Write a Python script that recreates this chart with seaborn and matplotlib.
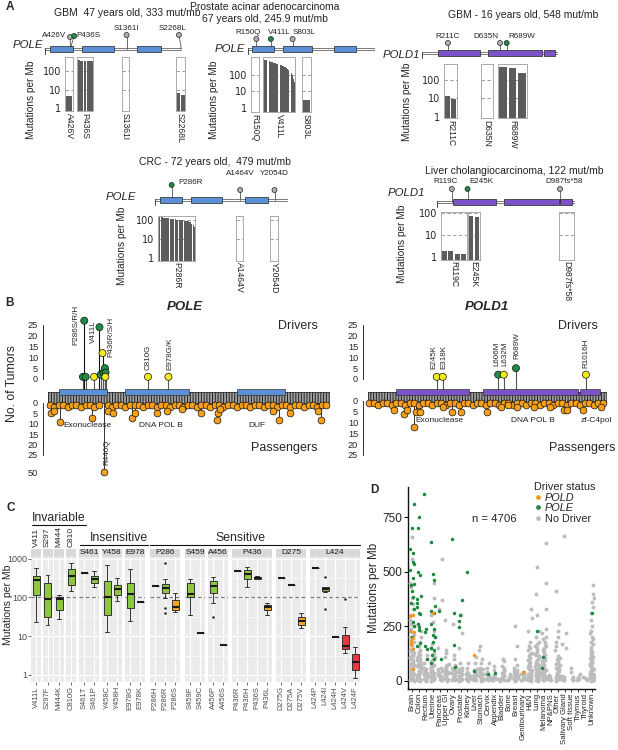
import numpy as np
import pandas as pd
import matplotlib
matplotlib.use("Agg")
import matplotlib.pyplot as plt
import matplotlib.ticker as mticker
from matplotlib.patches import Rectangle
from matplotlib.lines import Line2D
import seaborn as sns

np.random.seed(7)
sns.set_theme(style="white")
plt.rcParams["font.family"] = ["Liberation Sans", "DejaVu Sans"]
plt.rcParams["axes.linewidth"] = 0.6
plt.rcParams["hatch.linewidth"] = 0.7

# ============================ DATA ============================
# ---- Panel A : case studies ----
POLE_LEN, POLD1_LEN = 2286, 1107
POLE_DOMAINS = [(78, 472), (621, 1148), (1542, 1937)]
POLD1_DOMAINS = [(130, 470), (535, 980), (990, 1080)]

a1_title = ["GBM  47 years old, 333 mut/mb"]
a1_muts = ["A426V", "P436S", "S1361I", "S2268L"]
a1_pos = [426, 436, 1361, 2268]
a1_driver = [False, True, False, False]
a1_bars = [[4.5], [390, 370, 350, 340, 330], [], [6.5, 5]]

a2_title = ["Prostate acinar adenocarcinoma", "67 years old, 245.9 mut/mb"]
a2_muts = ["R150Q", "V411L", "S803L"]
a2_pos = [150, 411, 803]
a2_driver = [False, True, False]
a2_bars = [[], [900, 850, 800, 760, 720, 690, 650, 620, 590, 560, 530, 500, 470, 450,
                420, 400, 380, 360, 340, 310, 290, 260, 230, 200, 170, 140, 100, 60, 40], [3]]

a3_title = ["GBM - 16 years old, 548 mut/mb"]
a3_muts = ["R211C", "D635N", "R689W"]
a3_pos = [211, 635, 689]
a3_driver = [False, False, True]
a3_bars = [[13, 9], [], [480, 420, 230]]

a4_title = ["CRC - 72 years old,  479 mut/mb"]
a4_muts = ["P286R", "A1464V", "Y2054D"]
a4_pos = [286, 1464, 2054]
a4_driver = [True, False, False]
a4_bars = [[150, 146, 142, 138, 134, 130, 127, 124, 121, 118, 115, 112, 110, 108, 105,
            102, 100, 98, 96, 94, 92, 90, 88, 85, 80, 75, 65, 55, 45], [], []]

a5_title = ["Liver cholangiocarcinoma, 122 mut/mb"]
a5_muts = ["R119C", "E245K", "D987fs*58"]
a5_pos = [119, 245, 987]
a5_driver = [False, True, False]
a5_bars = [[1.8, 1.8, 1.4, 1.4], [72, 66], []]

# ---- Panel B : lollipops ----
pole_drv_pos = [286, 275, 297, 366, 411, 421, 436, 444, 456, 461, 459, 810, 978]
pole_drv_cnt = [27, 1, 1, 1, 24, 2, 12, 3, 5, 3, 1, 1, 1]
pole_drv_col = ["g", "g", "g", "y", "g", "g", "y", "g", "g", "g", "y", "y", "y"]
pole_drv_labels = ["P286S/R/H", "V411L", "P436R/S/H", "C810G", "E978G/K"]

pole_pas_pos = [5, 40, 75, 110, 150, 185, 220, 255, 300, 335, 370, 405, 480, 515, 550, 590,
                625, 660, 700, 735, 770, 810, 845, 880, 920, 955, 990, 1030, 1065, 1100, 1140,
                1175, 1210, 1250, 1285, 1320, 1360, 1395, 1430, 1470, 1505, 1540, 1580, 1615,
                1650, 1690, 1725, 1760, 1800, 1835, 1870, 1910, 1945, 1980, 2020, 2055, 2090,
                2130, 2165, 2200, 2240, 2275,
                10, 37, 86, 347, 446, 484, 525, 676, 703, 881, 964, 1087, 1243, 1375, 1389,
                1402, 1840, 1890, 1978, 2211, 2230]
pole_pas_cnt = [1, 2, 1, 1, 2, 1, 1, 2, 1, 1, 2, 1, 1, 2, 1, 1,
                2, 1, 1, 1, 2, 1, 1, 2, 1, 1, 2, 1, 1, 2, 1,
                1, 2, 1, 1, 2, 1, 1, 2, 1, 1, 2, 1, 1,
                2, 1, 1, 2, 1, 1, 2, 1, 1, 2, 1, 1, 2,
                1, 1, 2, 1, 1,
                5, 4, 9, 7, 50, 4, 5, 7, 5, 5, 4, 3, 5, 8, 5,
                3, 4, 8, 5, 4, 8]

pold_drv_pos = [319, 347, 606, 632, 689, 1016]
pold_drv_cnt = [1, 1, 2, 2, 5, 2]
pold_drv_col = ["y", "y", "g", "y", "g", "y"]
pold_drv_labels = ["E245K", "E318K", "L606M", "L632M", "R689W", "R1016H"]

pold_pas_pos = [3, 24, 45, 66, 87, 108, 129, 150, 171, 192, 213, 234, 255, 276, 297, 318, 339,
                360, 381, 402, 423, 444, 465, 486, 507, 528, 549, 570, 591, 612, 633, 654, 675,
                696, 717, 738, 759, 780, 801, 822, 843, 864, 885, 906, 927, 948, 969, 990, 1011,
                1032, 1053, 1074, 1095,
                120, 167, 179, 213, 222, 241, 348, 392, 434, 556, 619, 651, 692, 773, 850, 912,
                927, 1004, 1088]
pold_pas_cnt = [1, 1, 2, 1, 1, 2, 1, 1, 2, 1, 1, 2, 1, 1, 2, 1, 1,
                2, 1, 1, 2, 1, 1, 2, 1, 1, 2, 1, 1, 2, 1, 1, 2,
                1, 1, 2, 1, 1, 2, 1, 1, 2, 1, 1, 2, 1, 1, 2, 1,
                1, 2, 1, 1,
                4, 6, 4, 12, 5, 5, 3, 5, 5, 5, 3, 2, 3, 3, 3, 4,
                4, 4, 3]

# ---- Panel C : boxplots ----
c_mut = ["V411L", "S297F", "M444K", "C810G", "S461T", "S461P", "Y458C", "Y458H", "E978G",
         "E978K", "P286H", "P286R", "P286S", "S459F", "S459C", "A456P", "A456S", "P436R",
         "P436H", "P436S", "P436L", "D275G", "D275A", "D275V", "L424P", "L424I", "L424H",
         "L424V", "L424F"]
c_vals = [[23, 112, 280, 355, 580], [19, 31, 92, 240, 380], [28, 48, 92, 100, 112],
          [150, 215, 355, 525, 780], [420], [190, 235, 300, 360, 470],
          [13, 35, 100, 265, 690], [83, 112, 160, 215, 310], [24, 53, 120, 235, 550], [75],
          [200], [95, 130, 170, 220, 290], [42, 47, 56, 88, 130], [35, 100, 120, 235, 300],
          [12], [70, 130, 200, 270, 330], [6], [470], [190, 290, 410, 520, 600],
          [290, 300, 320, 340, 350], [36, 48, 55, 65, 72], [310], [210],
          [16, 20, 25, 32, 40], [560], [135, 145, 160, 180, 190], [9.5],
          [3.6, 4.8, 5.5, 11, 17], [0.84, 1.34, 2.2, 3.4, 5.3]]
c_class = ["g", "g", "g", "g", "g", "g", "g", "g", "g", "g", "g", "g", "o", "g", "g", "g", "g",
           "g", "g", "g", "o", "g", "g", "o", "g", "g", "g", "r", "r"]
c_out_mut = ["P286R", "P286R", "P286R", "A456P", "L424I", "L424I", "L424V"]
c_out_val = [40, 52, 780, 31, 50, 330, 90]
c_groups = ["Invariable", "Insensitive", "Sensitive"]

# ---- Panel D : strip plot ----
d_cats = ["Brain", "Colon", "Rectum", "Uterine", "Pancreas", "Upper GI", "Ovary", "Prostate",
          "Kidney", "Liver", "Stomach", "Cervix", "Appendix", "Bladder", "Bone", "Breast",
          "Genitourinary", "H&N", "Lung", "Melanoma", "NP&PNS", "Other", "Salivary Gland",
          "Soft tissue", "Thymus", "Thyroid", "Unknown"]
# sparse upper values of tumours without a driver
d_nodriver = [
    [660, 560, 450, 430, 380, 350, 330, 300, 280, 260, 250, 240, 225, 210, 200, 190, 180, 170,
     160],
    [260, 230, 200, 180, 160],
    [120, 100, 80],
    [450, 380, 300, 270, 230, 200, 170, 150, 130, 110],
    [560, 370, 330, 150],
    [280, 140, 130, 110],
    [260, 120, 100],
    [300, 220, 150, 80],
    [80, 60],
    [110, 80],
    [160, 140, 100, 80],
    [80, 60],
    [70, 50],
    [100, 90, 70],
    [30],
    [250, 160, 100, 75],
    [40],
    [330, 290, 230, 180, 160],
    [520, 400, 300, 230, 200],
    [630, 450, 330, 240, 220, 200, 190],
    [25],
    [410, 260, 230, 200, 180, 160, 140],
    [665, 220, 170, 150],
    [60, 40],
    [30, 20],
    [20],
    [440, 400, 380, 360, 340, 310, 280, 250, 230, 220, 200, 190],
]
# dense low block of tumours without a driver
d_nodriver_low = [
    [1, 4, 7, 9, 12, 15, 18, 21, 24, 27, 29, 33, 36, 39, 42, 46, 49, 52, 56, 59, 63, 66, 70, 73,
     77, 81, 84, 88, 92, 96, 101, 105, 109, 114, 118, 123, 128, 133, 139, 145, 150],
    [1, 3, 6, 9, 11, 14, 17, 20, 23, 26, 28, 31, 34, 37, 41, 44, 47, 51, 54, 58, 62, 66, 69, 73,
     77, 82, 86, 91, 96, 102, 107, 113, 119, 126, 133, 141],
    [1, 4, 7, 11, 14, 18, 22, 26, 31, 35, 41, 46, 53, 58],
    [1, 4, 7, 10, 13, 16, 19, 23, 26, 29, 33, 37, 41, 45, 49, 54, 58, 63, 68, 74, 79, 86, 93, 99],
    [2, 5, 8, 12, 15, 19, 23, 27, 32, 36, 41, 47, 53, 59],
    [1, 4, 8, 11, 14, 18, 22, 26, 30, 34, 39, 44, 49, 55, 61, 67, 74, 79],
    [2, 5, 8, 11, 15, 18, 22, 26, 30, 35, 39, 44, 50, 55, 61, 68, 75],
    [1, 4, 8, 11, 15, 19, 23, 27, 32, 37, 42, 48, 54, 60],
    [1, 4, 8, 12, 16, 20, 25, 30, 35, 40],
    [2, 5, 9, 13, 17, 21, 26, 31, 36, 42, 48, 55],
    [1, 4, 7, 11, 14, 18, 22, 27, 31, 36, 41, 47, 53, 59],
    [2, 5, 9, 13, 17, 22, 27, 33, 39],
    [2, 6, 10, 14, 19, 24, 29],
    [1, 5, 9, 13, 17, 22, 27, 32, 38, 44, 51, 58],
    [2, 6, 11, 16, 20],
    [1, 4, 8, 11, 15, 19, 23, 28, 33, 38, 44, 50, 57],
    [2, 6, 10, 15, 20, 25, 30],
    [1, 4, 7, 10, 13, 16, 19, 23, 26, 30, 33, 37, 41, 45, 49, 54, 58, 63, 68, 73, 79, 85, 91, 98,
     105, 113, 121, 130, 140, 150],
    [1, 3, 6, 9, 12, 15, 18, 21, 24, 27, 30, 34, 37, 41, 44, 48, 52, 56, 60, 64, 69, 73, 78, 83,
     88, 94, 99, 105, 112, 118, 125, 133, 141, 150, 160, 170, 180],
    [2, 4, 7, 10, 13, 16, 19, 22, 25, 29, 32, 36, 39, 43, 47, 51, 55, 59, 63, 68, 72, 77, 82, 87,
     93, 98, 104, 111, 117, 124, 132, 140, 149, 158, 168, 178],
    [2, 6, 11, 16, 21],
    [1, 4, 7, 10, 14, 17, 21, 24, 28, 32, 36, 40, 45, 49, 54, 59, 65, 71, 77, 84, 91, 99, 107, 116],
    [2, 6, 11, 16, 22],
    [2, 6, 11, 16],
    [3, 8, 13],
    [3, 8, 13],
    [1, 3, 6, 9, 12, 15, 18, 21, 25, 28, 31, 35, 38, 42, 46, 50, 54, 58, 62, 67, 71, 76, 81, 86,
     92, 97, 103, 110, 116, 123, 131, 139, 148, 157, 167, 178],
]
d_pole = [[810, 700, 605, 585, 545, 535, 510, 470, 445, 440, 410, 385, 355, 330, 270, 250, 200],
          [750, 700, 500, 485, 390, 375, 355, 340, 310, 305, 260, 245, 235, 175, 160],
          [855, 240, 225, 160, 145, 100],
          [635, 490, 460, 345, 320, 310, 260, 240, 210, 200, 180, 150, 140, 120, 100, 80],
          [320, 100], [], [650, 310, 165, 65], [370, 300, 275, 245], [500], [46], [], [30],
          [35], [], [], [], [], [], [230], [110, 60], [], [], [], [], [], [], [310]]
d_pold = [[300, 295, 230, 225, 195, 185, 170, 145, 55], [], [], [310], [], [], [], [], [],
          [120], [], [], [], [], [], [], [40], [], [], [], [], [], [], [], [], [], []]
d_n_label = "n = 4706"

# ============================ HELPERS ============================
W, H = 618, 750
fig = plt.figure(figsize=(W / 100, H / 100), dpi=100)


def rect(x0, y0, x1, y1):
    return [x0 / W, 1 - y1 / H, (x1 - x0) / W, (y1 - y0) / H]


def ftext(x, y, s, **kw):
    return fig.text(x / W, 1 - y / H, s, **kw)


def fline(x0, x1, y, **kw):
    fig.add_artist(Line2D([x0 / W, x1 / W], [1 - y / H, 1 - y / H],
                          transform=fig.transFigure, **kw))


BAR_GREY = "#5c5c5c"
GREEN = "#1E8C45"
YELLOW = "#F3EA1B"
ORANGE = "#F7A01C"


# ============================ PANEL A ============================
def draw_case(title, title_xy, gene, L, domains, dcol, trk, glab, muts, pos, driver,
              circ_h, circ_dx, lab_dx, lab_h, panels, pan_y, bars, ylim, ylab_xy):
    tx0, tx1, ty = trk
    for i, line in enumerate(title):
        ftext(title_xy[0], title_xy[1] + i * 12, line, ha="center", va="center", fontsize=7.5,
              color="#222")
    ftext(glab[0], glab[1], gene, ha="right", va="center", fontsize=8.2, style="italic")
    ax = fig.add_axes(rect(tx0, ty - 30, tx1, ty + 6))
    ppa = (tx1 - tx0) / L
    ax.add_patch(Rectangle((0, -1.3), L, 2.6, fc="white", ec="#666", lw=0.6, zorder=1))
    for xe in (0, L):
        ax.plot([xe, xe], [-4.5, 1.3], color="#444", lw=0.7, zorder=1)
    for s, e in domains:
        ax.add_patch(Rectangle((s, -2.6), e - s, 5.2, fc=dcol, ec="#222", lw=0.5, zorder=3))
    cxs = []
    for i, p in enumerate(pos):
        cx = p + circ_dx[i] / ppa
        cxs.append(cx)
        ax.plot([p, p, cx], [0, 3, circ_h[i]], color="#555", lw=0.6, zorder=2)
        ax.text(cx + lab_dx[i] / ppa, lab_h[i], muts[i], ha="center", va="bottom",
                fontsize=5.8, color="#222")
    sns.scatterplot(x=cxs, y=circ_h, hue=["d" if d else "p" for d in driver],
                    palette={"d": GREEN, "p": "#b0b0b0"}, s=13, edgecolor="#222",
                    linewidth=0.5, legend=False, ax=ax, zorder=4, clip_on=False)
    ax.set_xlim(0, L)
    ax.set_ylim(-6, 30)
    ax.axis("off")
    for i, (px0, px1) in enumerate(panels):
        bx = fig.add_axes(rect(px0, pan_y[0], px1, pan_y[1]))
        vals = bars[i]
        if vals:
            sns.barplot(x=list(range(len(vals))), y=vals, color=BAR_GREY, saturation=1,
                        width=0.82, edgecolor="none", linewidth=0, ax=bx)
        bx.set_yscale("log")
        bx.set_ylim(*ylim)
        bx.set_xlim(-0.5, max(len(vals), 1) - 0.5)
        bx.set_xticks([])
        bx.set_xlabel("")
        bx.set_ylabel("")
        bx.set_facecolor("white")
        for yv in (10, 100):
            if ylim[0] < yv < ylim[1]:
                bx.axhline(yv, ls=(0, (4, 3)), color="#8a8a8a", lw=0.6, zorder=0)
        for sp in bx.spines.values():
            sp.set_color("#aaaaaa")
            sp.set_linewidth(0.7)
        bx.yaxis.set_minor_locator(mticker.NullLocator())
        if i == 0:
            bx.set_yticks([1, 10, 100])
            bx.set_yticklabels(["1", "10", "100"], fontsize=7, family="DejaVu Sans")
            bx.tick_params(axis="y", length=2, width=0.6, pad=1, color="#555")
        else:
            bx.set_yticks([])
        bx.text(0.5, -0.03, muts[i], transform=bx.transAxes, rotation=-90, ha="center",
                va="top", fontsize=6.2, color="#222")
    ftext(ylab_xy[0], ylab_xy[1], "Mutations per Mb", rotation=90, ha="center", va="center",
          fontsize=7.3)


ftext(10, 7, "A", fontsize=8.5, fontweight="bold", ha="center", va="center")

draw_case(a1_title, (127, 13), "POLE", POLE_LEN, POLE_DOMAINS, "#5B8FD6", (45, 182, 49),
          (43, 45), a1_muts, a1_pos, a1_driver, [12, 13, 14, 14], [-0.5, 3, 0, -2],
          [-16, 14, 0, -6], [10, 10, 17, 17], [(65, 73), (77, 93), (122, 129), (176, 185)],
          (57, 111), a1_bars, (0.69, 572), (31, 100))
draw_case(a2_title, (265, 7), "POLE", POLE_LEN, POLE_DOMAINS, "#5B8FD6", (248, 375, 49),
          (245, 49), a2_muts, a2_pos, a2_driver, [10, 10, 10], [0, 0, 0],
          [-8, 8, 12], [13, 13, 13], [(251, 259), (263, 295), (302, 311)],
          (57, 112), a2_bars, (0.57, 1230), (214, 100))
draw_case(a3_title, (523, 15), "POLD1", POLD1_LEN, POLD1_DOMAINS, "#7B52C7", (422, 558, 53),
          (420, 55), a3_muts, a3_pos, a3_driver, [10, 10, 10], [0, 0, 0],
          [0, -14, 15], [13, 13, 13], [(444, 457), (481, 493), (498, 527)],
          (64, 118), a3_bars, (0.88, 730), (407, 102))
draw_case(a4_title, (215, 162), "POLE", POLE_LEN, POLE_DOMAINS, "#5B8FD6", (155, 288, 200),
          (136, 197), a4_muts, a4_pos, a4_driver, [15, 10, 10], [0, 0, 0],
          [19, 0, 0], [14, 23, 23], [(158, 195), (236, 243), (270, 278)],
          (216, 261), a4_bars, (0.7, 162), (122, 246))
draw_case(a5_title, (514, 171), "POLD1", POLD1_LEN, POLD1_DOMAINS, "#7B52C7", (437, 575, 202),
          (425, 193), a5_muts, a5_pos, a5_driver, [13, 13, 13], [0, 0, 0],
          [-6, 14, 4], [17, 17, 17], [(441, 467), (468, 480), (559, 574)],
          (212, 260), a5_bars, (0.73, 110), (402, 244))


# ============================ PANEL B ============================
def lolli(gene, title_x, x0, x1, a, b, doms, dcol, dpos, dcnt, dcl, dlabels, dlab_px,
          ppos, pcnt, bot_zero, bot_scale, bot_end, broken, dom_labels, dl_y, tx_drv, tx_pas):
    xl = ((x0 - a) / b, (x1 - a) / b)
    ftext(title_x, 307, gene, ha="center", va="center", fontsize=9.5, fontweight="bold",
          style="italic")
    # drivers
    axt = fig.add_axes(rect(x0, 312, x1, 392))
    ylo, yhi = -(392 - 379) / 2.16, (379 - 312) / 2.16
    for p, c in zip(dpos, dcnt):
        axt.plot([p, p], [ylo, c], color="#111" if c >= 10 else "#555", lw=0.8, zorder=2)
    sns.scatterplot(x=dpos, y=dcnt, hue=dcl, palette={"g": GREEN, "y": YELLOW}, s=26,
                    edgecolor="#111", linewidth=0.5, legend=False, ax=axt, zorder=4,
                    clip_on=False)
    axt.set_xlim(xl)
    axt.set_ylim(ylo, yhi)
    for k in ("top", "right", "bottom"):
        axt.spines[k].set_visible(False)
    axt.spines["left"].set_bounds(0, 25)
    axt.spines["left"].set_position(("outward", 3.6))
    axt.spines["left"].set_color("#111")
    axt.set_xticks([])
    axt.set_yticks([0, 5, 10, 15, 20, 25])
    axt.tick_params(axis="y", labelsize=6.6, length=2.5, width=0.6, pad=1, color="#111")
    axt.set_facecolor("none")
    axt.set_xlabel("")
    axt.set_ylabel("")
    for lab, (px, py) in zip(dlabels, dlab_px):
        ftext(px, py, lab, rotation=90, ha="center", va="bottom", fontsize=5.8)
    # band
    axm = fig.add_axes(rect(x0, 386, x1, 404))
    axm.set_xlim(xl)
    axm.set_ylim(0, 18)
    axm.axis("off")
    axm.add_patch(Rectangle((xl[0], 1), xl[1] - xl[0], 10.5, fc="#a0a0a0", ec="#222222",
                            hatch="||||||", lw=0))
    axm.add_patch(Rectangle((xl[0], 1), xl[1] - xl[0], 10.5, fc="none", ec="#333", lw=0.6))
    for s, e in doms:
        axm.add_patch(Rectangle((s, 8.5), e - s, 6.5, fc=dcol, ec="#333", lw=0.5, zorder=3))
    # passengers
    axb = fig.add_axes(rect(x0, 392, x1, bot_end))
    ytop = -(bot_zero - 392) / bot_scale
    ybot = (bot_end - bot_zero) / bot_scale
    disp = [c if c <= 25 else 25 + (c - 25) * 8.2 / 25 for c in pcnt]
    axb.vlines(ppos, 0, disp, color="#111", lw=0.6, zorder=2)
    sns.scatterplot(x=ppos, y=disp, color=ORANGE, s=24, edgecolor="#111", linewidth=0.5,
                    legend=False, ax=axb, zorder=4, clip_on=False)
    axb.set_xlim(xl)
    axb.set_ylim(ybot, ytop)
    for k in ("top", "right", "bottom"):
        axb.spines[k].set_visible(False)
    axb.spines["left"].set_bounds(0, 25)
    axb.spines["left"].set_position(("outward", 3.6))
    axb.spines["left"].set_color("#111")
    axb.set_xticks([])
    ticks = [0, 5, 10, 15, 20, 25]
    labels = ["0", "5", "10", "15", "20", "25"]
    if broken:
        ticks.append(33.2)
        labels.append("50")
    axb.set_yticks(ticks)
    axb.set_yticklabels(labels)
    axb.tick_params(axis="y", labelsize=6.6, length=2.5, width=0.6, pad=1, color="#111")
    axb.set_facecolor("none")
    axb.set_xlabel("")
    axb.set_ylabel("")
    for lab, lx in dom_labels:
        ftext(lx, dl_y, lab, ha="center", va="center", fontsize=6, color="#222")
    ftext(tx_drv[0], tx_drv[1], "Drivers", ha="right", va="center", fontsize=9)
    ftext(tx_pas[0], tx_pas[1], "Passengers", ha="right", va="center", fontsize=9)


ftext(9, 303, "B", fontsize=8.5, fontweight="bold", ha="center", va="center")
ftext(12, 384, "No. of Tumors", rotation=90, ha="center", va="center", fontsize=8.8)

lolli("POLE", 185, 48, 330, 49.5, 0.1216, POLE_DOMAINS, "#5B8FD6",
      pole_drv_pos, pole_drv_cnt, pole_drv_col, pole_drv_labels,
      [(76, 345), (93, 343), (111, 357), (148, 370), (170, 370)],
      pole_pas_pos, pole_pas_cnt, 403, 2.08, 480, True,
      [("Exonuclease", 87), ("DNA POL B", 161), ("DUF", 257)], 426, (318, 326), (318, 448))
ftext(107, 465, "R446Q", rotation=90, ha="center", va="bottom", fontsize=5.8)

lolli("POLD1", 487, 368, 607, 368.5, 0.214, POLD1_DOMAINS, "#7B52C7",
      pold_drv_pos, pold_drv_cnt, pold_drv_col, pold_drv_labels,
      [(434, 369), (444, 369), (497, 366), (505, 366), (517, 359), (586, 368)],
      pold_pas_pos, pold_pas_cnt, 401, 2.16, 460, False,
      [("Exonuclease", 439), ("DNA POL B", 533), ("zf-C4pol", 596)], 421, (598, 326),
      (615, 448))

# ============================ PANEL C ============================
ftext(11, 508, "C", fontsize=8.5, fontweight="bold", ha="center", va="center")
cmap = {"g": "#8DC63F", "o": "#F7A823", "r": "#E8383D"}
c_df = pd.DataFrame([(m, v) for m, vs in zip(c_mut, c_vals) for v in vs], columns=["mut", "val"])
c_df["facet"] = c_df["mut"].str[:4]
c_odf = pd.DataFrame({"mut": c_out_mut, "val": c_out_val})
c_pal = {m: cmap[k] for m, k in zip(c_mut, c_class)}
facets = list(dict.fromkeys(m[:4] for m in c_mut))
c_fx0 = [31, 42.5, 54, 66, 79, 102, 125, 150, 185, 208, 232, 276, 310]
CY0, CY1 = 557, 682
for k, fct in enumerate(facets):
    fm = [m for m in c_mut if m[:4] == fct]
    x0 = c_fx0[k]
    x1 = x0 + 10 * len(fm)
    ax = fig.add_axes(rect(x0, CY0, x1, CY1))
    ax.set_facecolor("#EBEBEB")
    sub = c_df[c_df.facet == fct]
    sns.boxplot(data=sub, x="mut", y="val", hue="mut", order=fm, hue_order=fm, palette=c_pal,
                legend=False, whis=np.inf, width=0.7, linewidth=0.7, linecolor="#333333",
                fliersize=0, saturation=1, medianprops=dict(color="#1a1a1a", linewidth=1.5),
                ax=ax)
    osub = c_odf[c_odf.mut.isin(fm)]
    if len(osub):
        sns.stripplot(data=osub, x="mut", y="val", order=fm, jitter=False, color="#222",
                      size=1.8, ax=ax)
    ax.set_yscale("log")
    ax.set_ylim(0.66, 1100)
    ax.set_xlim(-0.5, len(fm) - 0.5)
    ax.set_axisbelow(True)
    ax.yaxis.set_major_locator(mticker.FixedLocator([1, 10, 100, 1000]))
    ax.yaxis.set_minor_locator(mticker.FixedLocator([3.16, 31.6, 316]))
    ax.grid(which="major", color="white", lw=0.9)
    ax.grid(which="minor", axis="y", color="white", lw=0.45)
    ax.axhline(100, color="#808080", ls=(0, (3, 2)), lw=0.9, zorder=0.9)
    for sp in ax.spines.values():
        sp.set_visible(False)
    ax.set_xlabel("")
    ax.set_ylabel("")
    ax.set_xticks(range(len(fm)))
    ax.set_xticklabels(fm, rotation=90, fontsize=5.5, color="#4d4d4d")
    ax.tick_params(axis="x", length=2, width=0.5, color="#333", pad=1, bottom=True)
    ax.tick_params(axis="y", which="minor", length=0)
    if k == 0:
        ax.set_yticklabels(["1", "10", "100", "1000"], fontsize=6.5, color="#4d4d4d")
        ax.tick_params(axis="y", which="major", length=2, width=0.5, color="#333", pad=1,
                       left=True)
    else:
        ax.tick_params(axis="y", which="major", labelleft=False, length=0)
    sh = 8 / (CY1 - CY0)
    ax.add_patch(Rectangle((0, 1), 1, sh, transform=ax.transAxes, clip_on=False,
                           fc="#D9D9D9", ec="none"))
    if len(fm) > 1:
        ax.text(0.5, 1 + sh / 2, fct, transform=ax.transAxes, ha="center", va="center",
                fontsize=6, color="#1a1a1a")
    else:
        ftext((x0 + x1) / 2, 547, fct, rotation=90, ha="center", va="bottom", fontsize=6)

ftext(8, 605, "Mutations per Mb", rotation=90, ha="center", va="center", fontsize=7.5)
ftext(32, 518, c_groups[0], ha="left", va="center", fontsize=8.8)
fline(32, 86, 525, color="#111", lw=0.8)
ftext(119, 538, c_groups[1], ha="center", va="center", fontsize=8.8)
fline(80, 148, 545, color="#111", lw=0.8)
ftext(240, 538, c_groups[2], ha="center", va="center", fontsize=8.8)
fline(150, 360, 545, color="#111", lw=0.8)

# ============================ PANEL D ============================
ftext(374, 490, "D", fontsize=8.5, fontweight="bold", ha="center", va="center")
rows = []
for cat, nd, ndl, pe, pd_ in zip(d_cats, d_nodriver, d_nodriver_low, d_pole, d_pold):
    rows += [(cat, v, "No Driver") for v in nd + ndl]
    rows += [(cat, v, "POLE") for v in pe]
    rows += [(cat, v, "POLD") for v in pd_]
d_df = pd.DataFrame(rows, columns=["tissue", "mut", "status"])
d_pal = {"POLD": "#F7941D", "POLE": "#1A8A3C", "No Driver": "#BDBDBD"}
axd = fig.add_axes(rect(408, 487, 595, 689))
for st in ["No Driver", "POLE", "POLD"]:
    sns.stripplot(data=d_df[d_df.status == st], x="tissue", y="mut", order=d_cats,
                  color=d_pal[st], size=2.8 if st == "No Driver" else 2.5, jitter=0.32,
                  linewidth=0, ax=axd)
axd.set_xlim(-0.58, 26.4)
axd.set_ylim(-37, 888)
axd.set_yticks([0, 250, 500, 750])
axd.tick_params(axis="y", labelsize=8.5, length=3, width=0.8, pad=1, left=True, color="#111")
axd.set_xticks(range(len(d_cats)))
axd.set_xticklabels(d_cats, rotation=90, fontsize=5.6)
axd.tick_params(axis="x", length=2, width=0.6, pad=1, bottom=True, color="#111")
for k in ("top", "right"):
    axd.spines[k].set_visible(False)
for k in ("left", "bottom"):
    axd.spines[k].set_color("#111")
    axd.spines[k].set_linewidth(1.0)
axd.set_xlabel("")
axd.set_ylabel("Mutations per Mb", fontsize=8.4, labelpad=2)
axd.set_facecolor("none")
axd.text(0.46, 0.842, d_n_label, transform=axd.transAxes, ha="center", va="center",
         fontsize=8.2)
handles = [Line2D([0], [0], marker="o", ls="", color=d_pal[s], markersize=2.4)
           for s in ["POLD", "POLE", "No Driver"]]
leg = axd.legend(handles, ["POLD", "POLE", "No Driver"], title="Driver status",
                 loc="upper left", bbox_to_anchor=(534 / W, 1 - 482 / H),
                 bbox_transform=fig.transFigure, frameon=False, fontsize=7.8,
                 title_fontsize=7.8, handletextpad=0.2, labelspacing=0.05, borderpad=0,
                 handlelength=0.8, borderaxespad=0)
leg._legend_box.align = "left"
for t in leg.get_texts()[:2]:
    t.set_style("italic")

fig.savefig("out.png", dpi=100)
